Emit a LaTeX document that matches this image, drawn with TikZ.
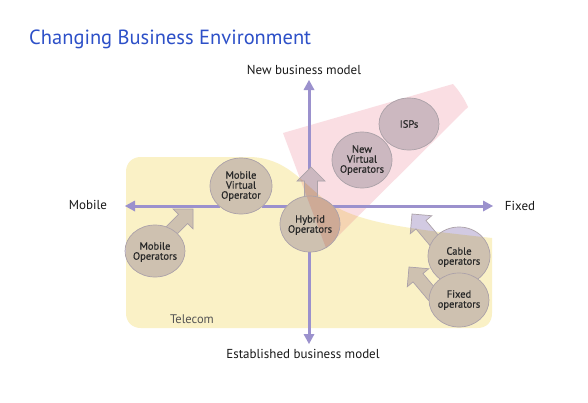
\documentclass[tikz,border=0pt]{standalone}
\usepackage{fontspec}
\setmainfont{PT Sans}
\newfontfamily\blobfont[FakeBold=0.6]{PT Sans}
\usetikzlibrary{arrows.meta}
\definecolor{titleblue}{RGB}{45,80,200}
\definecolor{axiscol}{RGB}{155,145,205}
\definecolor{telecomyellow}{RGB}{250,241,198}
\definecolor{newpink}{RGB}{250,222,227}
\definecolor{peach}{RGB}{245,212,178}
\definecolor{blobW}{RGB}{210,202,226}
\definecolor{blobY}{RGB}{206,193,176}
\definecolor{blobP}{RGB}{204,184,192}
\definecolor{blobYP}{RGB}{206,170,150}
\definecolor{blobrim}{RGB}{172,162,168}
\definecolor{labelgray}{RGB}{40,40,40}
\definecolor{axislabel}{RGB}{25,25,25}
\definecolor{telecomtext}{RGB}{85,85,85}

\newcommand\telecompath{(126,313) -- (126,172) .. controls (126,163) and (132,157) .. (141,157) -- (250,157) .. controls (285,158) and (300,180) .. (325,200) .. controls (355,222) and (400,228) .. (492,238) -- (492,313) .. controls (492,322) and (487,328) .. (477,328) -- (141,328) .. controls (132,328) and (126,322) .. (126,313) -- cycle}
\newcommand\pinkpath{(283,133) -- (453,84) .. controls (460,92) and (465,100) .. (468,107) -- (326,248) -- cycle}
\newcommand\backdrop{\fill[telecomyellow] \telecompath; \fill[newpink] \pinkpath; \begin{scope}\clip \telecompath; \fill[peach] \pinkpath;\end{scope}}
\newcommand\blob[1]{\fill[blobW] #1;
  \begin{scope}\clip \telecompath; \fill[blobY] #1;\end{scope}
  \begin{scope}\clip \pinkpath; \fill[blobP] #1; \begin{scope}\clip \telecompath; \fill[blobYP] #1;\end{scope}\end{scope}
  \draw[blobrim,line width=0.7pt] #1;}
\newcommand\fatpath[4]{([shift={(#1,#2)},rotate=#3]0,0) -- ([shift={(#1,#2)},rotate=#3]-14,14) -- ([shift={(#1,#2)},rotate=#3]-14,6.5) -- ([shift={(#1,#2)},rotate=#3]-#4,6.5) -- ([shift={(#1,#2)},rotate=#3]-#4,-6.5) -- ([shift={(#1,#2)},rotate=#3]-14,-6.5) -- ([shift={(#1,#2)},rotate=#3]-14,-14) -- cycle}

\begin{document}
\begin{tikzpicture}[x=1pt,y=-1pt,
  axisline/.style={draw=axiscol,line width=3pt},
  axistip/.style={fill=axiscol},
  bloblabel/.style={align=center,text=labelgray,font=\blobfont\fontsize{10.5}{10}\selectfont,inner sep=0pt},
  axislbl/.style={text=axislabel,font=\fontsize{13}{15}\selectfont,inner sep=0pt}]
\useasboundingbox (0,0) rectangle (588,402);
\fill[white] (0,0) rectangle (588,402);

\node[anchor=base west,text=titleblue,font=\fontsize{20.5}{24}\selectfont,inner sep=0pt] (title) at (29,44) {Changing Business Environment};

\backdrop

% axes (drawn in pieces between the circles that lie on them)
\coordinate (L) at (125,206);
\coordinate (R) at (493,206);
\coordinate (T) at (309,80);
\coordinate (B) at (309,344);
\coordinate (h1) at (220,206);
\coordinate (h2) at (262,206);
\coordinate (h3) at (288,206);
\coordinate (h4) at (332,206);
\coordinate (v1) at (309,169);
\coordinate (v2) at (309,251);
\draw[axisline] ([xshift=8pt]L) -- (h1);
\draw[axisline] (h2) -- (h3);
\draw[axisline] (h4) -- ([xshift=-8pt]R);
\draw[axisline] ([yshift=-8pt]T) -- (v1);
\draw[axisline] (v2) -- ([yshift=8pt]B);
\fill[axistip] (L) -- ++(10,-5.5) -- ++(0,11) -- cycle;
\fill[axistip] (R) -- ++(-10,-5.5) -- ++(0,11) -- cycle;
\fill[axistip] (T) -- ++(-5.5,10) -- ++(11,0) -- cycle;
\fill[axistip] (B) -- ++(-5.5,-10) -- ++(11,0) -- cycle;

\node[axislbl] (newbm) at (304,70) {New business model};
\node[axislbl] (estbm) at (303,354) {Established business model};
\node[axislbl] (mob) at (88,205) {Mobile};
\node[axislbl] (fix) at (520,206) {Fixed};
\node[text=telecomtext,font=\fontsize{12.5}{14}\selectfont,inner sep=0pt] (tel) at (192,319) {Telecom};

% fat arrows
\blob{\fatpath{193}{209}{45}{36}}
\blob{\fatpath{311}{167}{90}{33}}
\blob{\fatpath{412}{214}{130}{38}}
\blob{\fatpath{409}{267}{130}{38}}

% circles
\blob{(155,251) ellipse [x radius=30,y radius=26]}
\blob{(241,186) ellipse [x radius=31,y radius=28]}
\blob{(310,224) ellipse [x radius=30,y radius=28]}
\blob{(362,160) ellipse [x radius=30,y radius=28]}
\blob{(409,124) ellipse [x radius=30,y radius=26]}
\blob{(459,256) ellipse [x radius=31,y radius=29]}
\blob{(459,300) ellipse [x radius=30,y radius=27]}

\node[bloblabel] (mo) at (155,252) {Mobile\\Operators};
\node[bloblabel] (mvo) at (241,186) {Mobile\\Virtual\\Operator};
\node[bloblabel] (hy) at (310,225) {Hybrid\\Operators};
\node[bloblabel] (nvo) at (362,160) {New\\Virtual\\Operators};
\node[bloblabel] (isp) at (409,124) {ISPs};
\node[bloblabel] (cab) at (459,257) {Cable\\operators};
\node[bloblabel] (fx) at (459,300) {Fixed\\operators};
\end{tikzpicture}
\end{document}
